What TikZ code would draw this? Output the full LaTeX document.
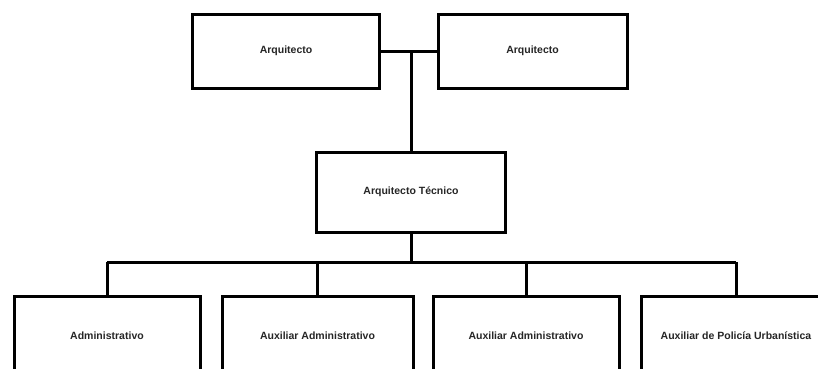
\documentclass[tikz,border=0pt]{standalone}
\usepackage{fontspec}
\setmainfont{Liberation Sans}
\usepackage{tikz}
\usetikzlibrary{positioning,calc}

\begin{document}
\begin{tikzpicture}[
x=1pt, y=-1pt,
box/.style={draw, line width=3pt, fill=white, align=center, font=\fontsize{10.5}{12}\selectfont\bfseries, text=black!85},
conn/.style={line width=3pt}
]
\clip (0,0) rectangle (818,368);
\fill[white] (0,0) rectangle (818,368);

\node[box, minimum width=187pt, minimum height=74pt] (arq1) at (286,51) {Arquitecto};
\node[box, minimum width=189pt, minimum height=74pt] (arq2) at (532.5,51) {Arquitecto};
\node[box, minimum width=189pt, minimum height=80pt] (tec) at (411,192) {Arquitecto Técnico};

\node[box, minimum width=186pt, minimum height=80pt] (adm) at (107,336) {Administrativo};
\node[box, minimum width=191pt, minimum height=80pt] (aux1) at (317.5,336) {Auxiliar Administrativo};
\node[box, minimum width=186pt, minimum height=80pt] (aux2) at (526,336) {Auxiliar Administrativo};
\node[box, minimum width=190pt, minimum height=80pt] (pol) at (736,336) {Auxiliar de Policía Urbanística};

\coordinate (bus) at (412,262);

\draw[conn] (arq1.east) -- (arq2.west);
\draw[conn] (tec.north) -- (tec.north |- arq1.east);
\draw[conn] (tec.south) -- (tec.south |- bus);
\draw[conn] (adm.north |- bus) -- (pol.north |- bus);
\foreach \n in {adm,aux1,aux2,pol}
  \draw[conn] (\n.north) -- (\n.north |- bus);
\end{tikzpicture}
\end{document}
